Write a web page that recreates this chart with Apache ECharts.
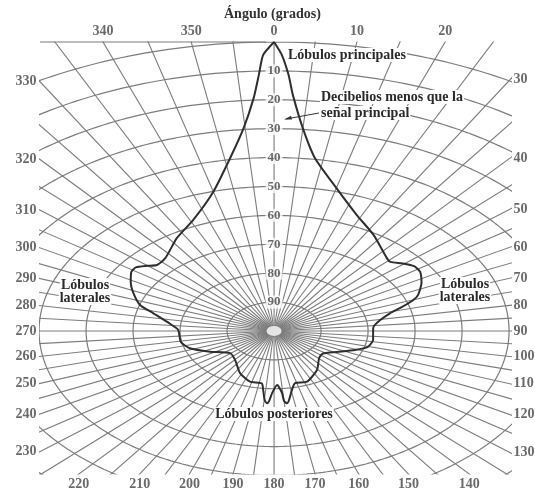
<!DOCTYPE html>
<html><head><meta charset="utf-8">
<script src="https://cdn.jsdelivr.net/npm/echarts@6/dist/echarts.min.js"></script>
<style>html,body{margin:0;padding:0;background:#fff}#c{width:535px;height:490px}</style>
</head><body><div id="c"></div>
<script>
// ---- data ----
const angleTicks = [0,10,20,30,40,50,60,70,80,90,100,110,120,130,140,150,160,170,180,190,200,210,220,230,240,250,260,270,280,290,300,310,320,330,340,350];
const spokeAngles = []; for (let a = 0; a < 360; a += 5) spokeAngles.push(a);
const dbRings = [0,10,20,30,40,50,60,70,80,90];
const dbLabels = [10,20,30,40,50,60,70,80,90];
// antenna pattern: angle (deg, clockwise from top) and decibels below main signal
const patternAngle = [0,1.0,2.0,2.8,5.0,8.3,15.1,23.7,32.5,43.6,46,49.5,53,56.7,62.1,67.8,70.1,73.5,76.1,82,87.5,98.4,105.4,110.9,118.5,126.9,134.3,145.9,158.2,166.1,169.5,172.4,173.7,175,175.5,178,181.1,182.5,183.4,184.8,186.5,188.2,196.3,206.3,219.7,230.6,242.2,251.5,259.1,271,276.2,283.4,287.5,293.5,299.1,303.9,306.8,309.8,312.5,317.4,327.2,335.9,345,351.1,354.7,356.9,357.9,358.6,360];
const patternDb    = [0,4.5,11.4,18.2,29.6,39.6,48.9,56.2,60.6,65.2,65.6,64,62.7,62.8,64.5,66.9,68.5,72,74.6,77.7,78.9,78.7,79.3,81.6,84.8,87,86.6,83.7,81.1,81.4,79.2,75.9,74.8,75.7,78.5,81.3,78.5,75.7,74.9,76,79.5,81.7,81.7,83.7,87,87.9,84.6,81.1,79.8,79.6,77.8,73.6,70.1,67.4,65.1,63.4,63.3,64.8,66.2,65.8,61.8,57.9,50.1,39.5,29.6,19.4,11.4,4.5,0];

// ---- scale (data units: radius = 100 - dB) ----
const X0 = -49.8, X1 = 50.2, Y0 = -49.5, Y1 = 100;
function pt(angle, db) {
  const r = 100 - db, a = angle * Math.PI / 180;
  return [r * Math.sin(a), r * Math.cos(a)];
}
const FONT = 'Liberation Serif';
const gridColor = '#7c7c7c';

const series = [];
spokeAngles.forEach(a => {
  series.push({type:'line', data:[[0,0], pt(a,-70)], symbol:'none', silent:true, z:1,
    lineStyle:{color:gridColor, width:1.1}, animation:false});
});
dbRings.forEach(db => {
  const d = []; for (let t = 0; t <= 360; t += 1) d.push(pt(t, db));
  series.push({type:'line', data:d, symbol:'none', silent:true, z:1,
    lineStyle:{color:gridColor, width:1.2}, animation:false});
});
series.push({type:'line', data: patternAngle.map((a,i) => pt(a, patternDb[i])),
  symbol:'none', smooth:0.2, z:3, lineStyle:{color:'#2e2e2e', width:2}, animation:false});
series.push({type:'scatter', data:[[0,0]], symbol:'circle', symbolSize:[15,10], z:4,
  itemStyle:{color:'#fff'}, silent:true, animation:false});
series.push({type:'scatter', z:5, silent:true, animation:false, symbolSize:1,
  itemStyle:{color:'transparent'},
  data: dbLabels.map(db => [0, 100 - db, db]),
  label:{show:true, position:'inside', formatter:p => p.value[2], color:'#444',
    fontFamily:FONT, fontWeight:'bold', fontSize:13, backgroundColor:'#fff', padding:[0,2]}});
// angle tick labels where each spoke meets the frame
const angData = angleTicks.map(a => {
  const r = a * Math.PI / 180, sx = Math.sin(r), cy = Math.cos(r);
  let best = Infinity, edge = '';
  if (sx > 1e-9 && X1/sx < best) { best = X1/sx; edge = 'right'; }
  if (sx < -1e-9 && X0/sx < best) { best = X0/sx; edge = 'left'; }
  if (cy > 1e-9 && Y1/cy < best) { best = Y1/cy; edge = 'top'; }
  if (cy < -1e-9 && Y0/cy < best) { best = Y0/cy; edge = 'bottom'; }
  return {value:[best*sx, best*cy, a], label:{position:edge}};
});
series.push({type:'scatter', z:5, silent:true, animation:false, clip:false, symbolSize:1,
  itemStyle:{color:'transparent'}, data:angData,
  label:{show:true, distance:3, formatter:p => p.value[2], color:'#444',
    fontFamily:FONT, fontWeight:'bold', fontSize:14}});

const txt = (x, y, s, align) => ({type:'text', x, y, z:10, style:{text:s, fill:'#2a2a2a',
  font:'bold 14px "Liberation Serif"', textAlign:align||'left', textVerticalAlign:'middle',
  backgroundColor:'#fff', padding:[0,1]}});

const option = {
  animation:false,
  title:{text:'Ángulo (grados)', left:219, top:2,
    textStyle:{fontFamily:FONT, fontSize:14, fontWeight:'bold', color:'#333'}},
  grid:{left:40, right:25, top:42, bottom:16},
  xAxis:{type:'value', min:X0, max:X1, show:false},
  yAxis:{type:'value', min:Y0, max:Y1, show:false},
  series,
  graphic:[
    {type:'line', shape:{x1:40, y1:42, x2:266, y2:42}, style:{stroke:gridColor, lineWidth:1.2}, z:1},
    txt(287, 55, 'Lóbulos principales'),
    txt(320, 97, 'Decibelios menos que la'),
    txt(320, 113, 'señal principal'),
    {type:'line', shape:{x1:319, y1:113, x2:286, y2:119}, style:{stroke:'#333', lineWidth:1}, z:10},
    {type:'polygon', shape:{points:[[284,119.5],[291,115.8],[292,119.5]]}, style:{fill:'#333'}, z:10},
    txt(85, 285, 'Lóbulos', 'center'),
    txt(85, 298, 'laterales', 'center'),
    txt(465, 284, 'Lóbulos', 'center'),
    txt(465, 297, 'laterales', 'center'),
    txt(274, 414, 'Lóbulos posteriores', 'center')
  ]
};
const chart = echarts.init(document.getElementById('c'));
chart.setOption(option);
</script></body></html>
